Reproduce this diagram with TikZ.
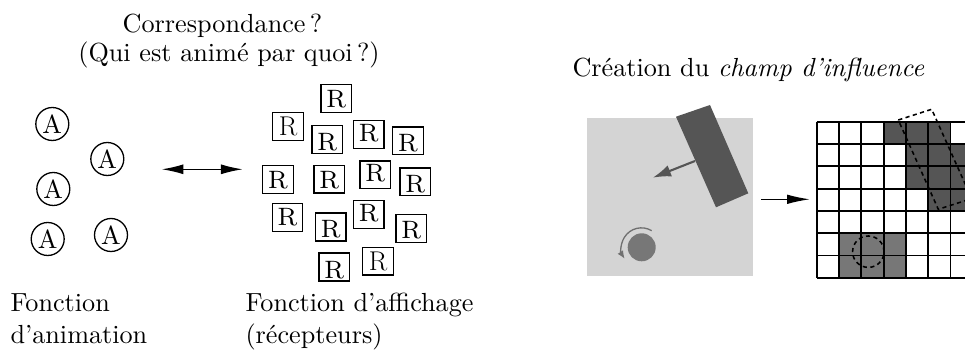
\documentclass[tikz,border=0pt]{standalone}
\usetikzlibrary{arrows.meta}
\definecolor{lightgr}{HTML}{D4D4D4}
\definecolor{darkgr}{HTML}{555555}
\definecolor{midgr}{HTML}{777777}
\definecolor{arcgr}{HTML}{707070}
\newcommand\thinR{\scalebox{0.6}{\fontsize{17.28}{20}\selectfont R}}
\newcommand\bR{\scalebox{1.2}{\fontsize{8}{9}\selectfont R}}
\begin{document}
\begin{tikzpicture}[x=0.382pt,y=-0.382pt,
  anim/.style={circle,draw,line width=0.5pt,inner sep=0pt,minimum size=12.6pt},
  rec/.style={rectangle,draw,line width=0.5pt,inner sep=0pt,minimum width=11.7pt,minimum height=10.6pt,text height=7pt,text depth=0pt},
  lbl/.style={inner sep=0pt,anchor=base west},
  ttl/.style={inner sep=0pt,anchor=base},
  gridline/.style={line width=0.75pt,black},
  dsh/.style={line width=0.6pt,dash pattern=on 1.6pt off 1.3pt}
]
\useasboundingbox (0,0) rectangle (965,350);
\clip (0,0) rectangle (965,350);

% titles
\node[ttl] (t1) at (222.5,33) {Correspondance\,?};
\node[ttl] (t2) at (229,61.7) {(Qui est animé par quoi\,?)};
\node[lbl] (t3) at (572,76.7) {Création du \textit{champ d'influence}};

% animation circles
\node[anim] (a1) at (52.3,124) {A};
\node[anim] (a2) at (107.3,159) {A};
\node[anim] (a3) at (53.3,189) {A};
\node[anim] (a4) at (47.7,239) {A};
\node[anim] (a5) at (111,235) {A};

% double arrow
\coordinate (dl) at (161.7,169.3);
\coordinate (dr) at (242.7,169.3);
\draw[line width=0.5pt,{Latex[length=8.3pt,width=3.8pt]}-{Latex[length=8.3pt,width=3.8pt]}] (dl) -- (dr);

% receptor boxes
\node[rec] (r1) at (336.3,98.7) {\bR};
\node[rec] (r2) at (288,126.7) {\thinR};
\node[rec] (r3) at (327.2,139.5) {\raisebox{-0.6pt}{\bR}};
\node[rec] (r4) at (368.8,134.7) {\raisebox{0.8pt}{\bR}};
\node[rec] (r5) at (408,140.8) {\raisebox{-0.6pt}{\bR}};
\node[rec] (r6) at (278,179.7) {\bR};
\node[rec] (r7) at (329.2,179.2) {\bR};
\node[rec] (r8) at (375.3,174.8) {\raisebox{0.8pt}{\bR}};
\node[rec] (r9) at (415.3,181.8) {\raisebox{-0.6pt}{\bR}};
\node[rec] (r10) at (287.5,217.5) {\raisebox{0.4pt}{\bR}};
\node[rec] (r11) at (330.7,227) {\raisebox{-0.6pt}{\bR}};
\node[rec] (r12) at (368.7,214.5) {\raisebox{0.8pt}{\bR}};
\node[rec] (r13) at (411.3,228.7) {\raisebox{-0.4pt}{\bR}};
\node[rec] (r14) at (334.2,267) {\raisebox{-0.8pt}{\bR}};
\node[rec] (r15) at (378,261.2) {\thinR};

% bottom labels
\node[lbl] (f1) at (10,311.7) {Fonction};
\node[lbl] (f2) at (10,343.3) {d'animation};
\node[lbl] (f3) at (245,311.7) {Fonction d'affichage};
\node[lbl] (f4) at (245,343.3) {(récepteurs)};

% grey scene
\fill[lightgr] (587.3,118.3) rectangle (753,276);
\fill[darkgr] (676,116.7) -- (710,105) -- (748.3,193.3) -- (716,207.3) -- cycle;
\coordinate (sa) at (695,161);
\coordinate (sb) at (652.7,177.7);
\draw[darkgr,line width=0.8pt,-{Latex[length=7pt,width=4.5pt]}] (sa) -- (sb);
\fill[midgr] (641.7,247.3) circle[radius=5.35pt];
\draw[arcgr,line width=0.5pt,-{Latex[length=3pt,width=2.5pt]}] (651.7,230.7) arc[start angle=59,end angle=213,radius=7.64pt];

% arrow to grid
\coordinate (ga) at (761,199.3);
\coordinate (gb) at (810,199.3);
\draw[line width=0.5pt,-{Latex[length=8.7pt,width=3.6pt]}] (ga) -- (gb);

% grid cells
\foreach \r/\c in {0/3,0/4,0/5,1/4,1/5,1/6,2/4,2/5,2/6,3/5,3/6}
  \fill[darkgr] ({816.7+22.3*\c},{121.7+22.3*\r}) rectangle +(22.3,22.3);
\foreach \r/\c in {5/1,5/2,5/3,6/1,6/2,6/3}
  \fill[midgr] ({816.7+22.3*\c},{121.7+22.3*\r}) rectangle +(22.3,22.3);
\foreach \i in {0,...,7}{
  \draw[gridline] (816.7,{121.7+22.3*\i}) -- (972.8,{121.7+22.3*\i});
  \draw[gridline] ({816.7+22.3*\i},121.7) -- ({816.7+22.3*\i},277.8);
}
\draw[dsh] (898.3,120) -- (931.7,109.3) -- (971.7,198.6) -- (938.3,209.3) -- cycle;
\draw[dsh] (868.3,251.7) circle[radius=6pt];
\end{tikzpicture}
\end{document}
